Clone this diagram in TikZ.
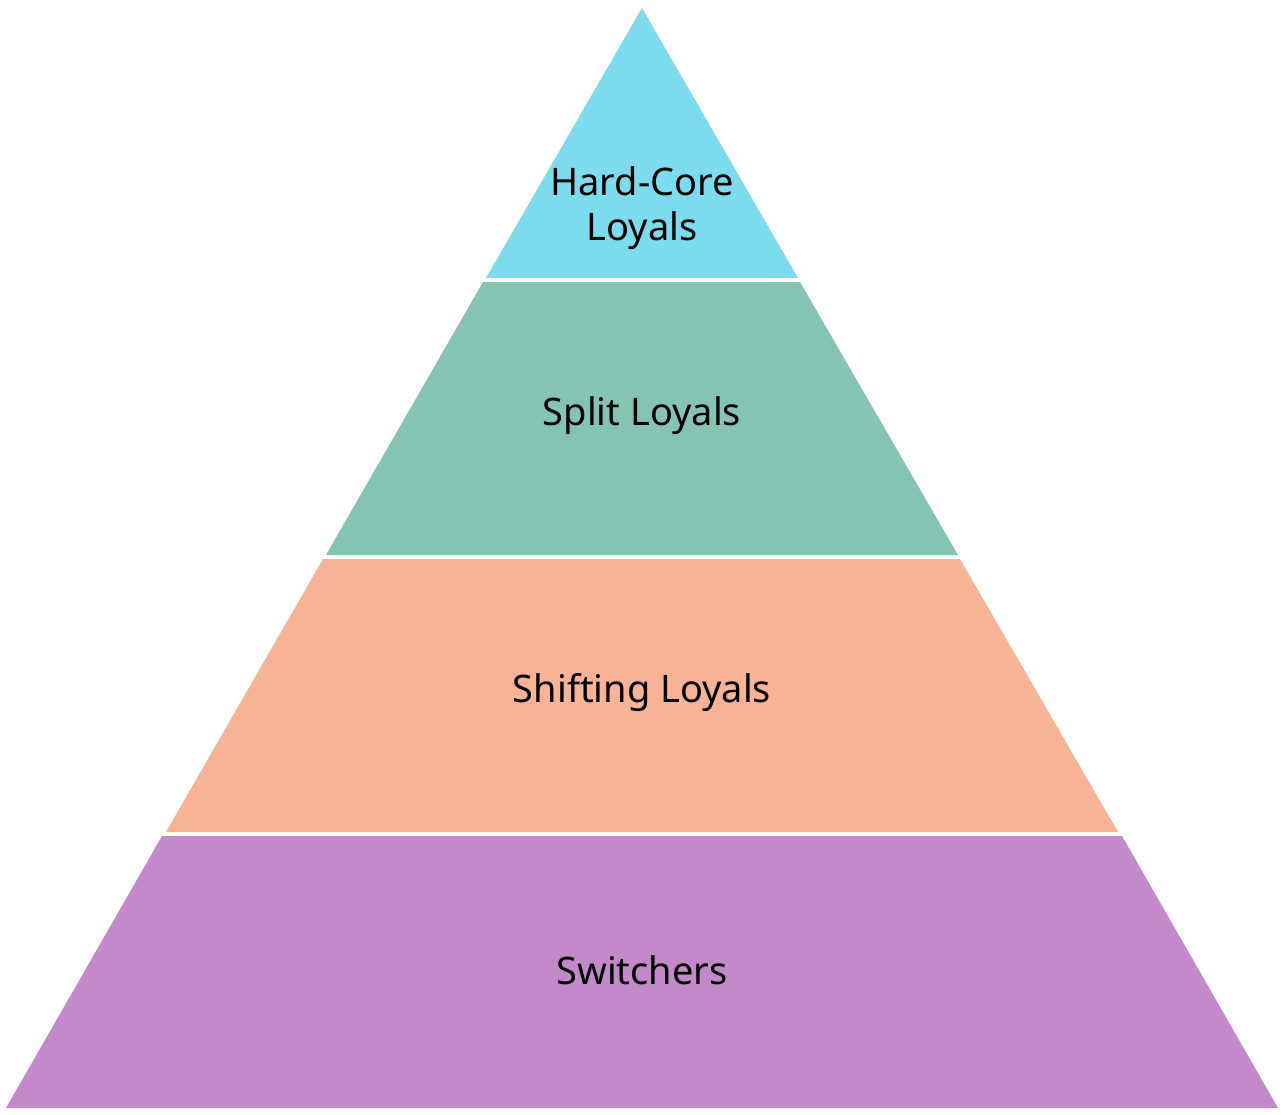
\documentclass[tikz,border=0pt]{standalone}
\usepackage{fontspec}
\setmainfont{Noto Sans}
\definecolor{cA}{HTML}{7CDBEC}
\definecolor{cB}{HTML}{85C4B2}
\definecolor{cC}{HTML}{F7B396}
\definecolor{cD}{HTML}{C389CB}
\begin{document}
\begin{tikzpicture}[x=0.01cm,y=-0.01cm,lbl/.style={font=\fontsize{10.8}{12.8}\selectfont,align=center,text=black}]
\useasboundingbox (0,0) rectangle (1285,1114);
\fill[cA] (642,8) -- (798,278) -- (486,278) -- cycle;
\fill[cB] (483,282) -- (800,282) -- (958,555) -- (326,555) -- cycle;
\fill[cC] (323,559) -- (960,559) -- (1118,832) -- (166,832) -- cycle;
\fill[cD] (162,836) -- (1122,836) -- (1278,1108) -- (6,1108) -- cycle;
\node[lbl] (a) at (642,208) {Hard-Core\\Loyals};
\node[lbl] (b) at (642,416) {Split Loyals};
\node[lbl] (c) at (642,693) {Shifting Loyals};
\node[lbl] (d) at (642,970) {Switchers};
\end{tikzpicture}
\end{document}
